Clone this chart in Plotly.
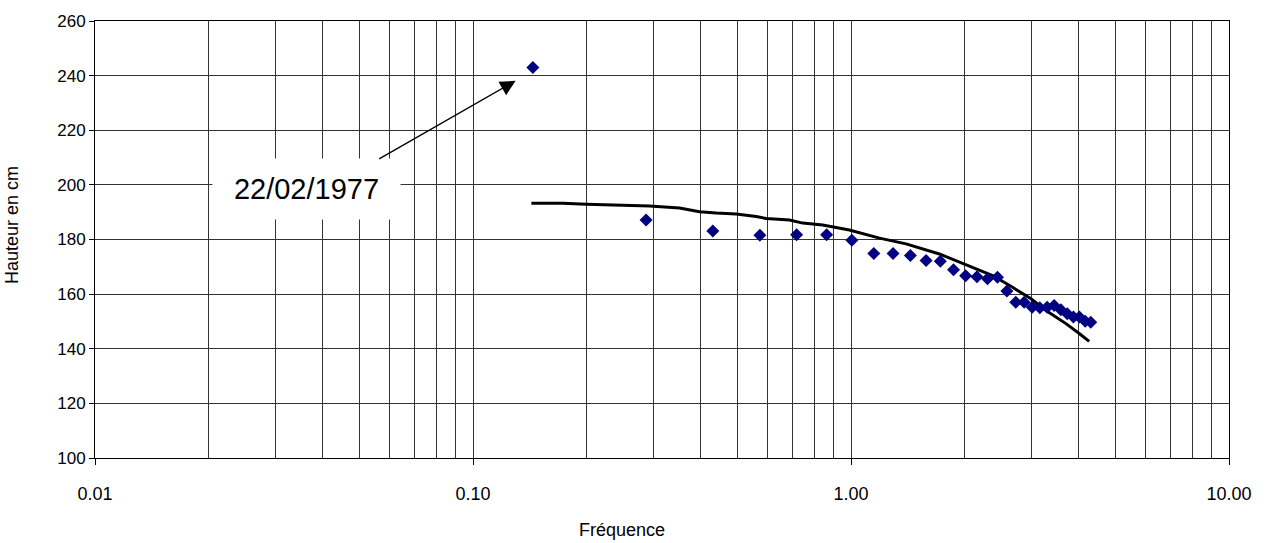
import math
import plotly.graph_objects as go

# Observed points (frequency, height in cm)
freq = [0.144, 0.287, 0.431, 0.574, 0.718, 0.862, 1.005, 1.149, 1.292, 1.436,
        1.580, 1.723, 1.867, 2.010, 2.154, 2.297, 2.441, 2.585, 2.728, 2.872,
        3.015, 3.159, 3.303, 3.446, 3.590, 3.733, 3.877, 4.020, 4.164, 4.308]
hauteur = [243.0, 187.1, 183.1, 181.6, 181.7, 181.7, 179.7, 174.9, 174.9, 174.1,
           172.3, 172.0, 168.9, 166.7, 166.4, 165.6, 166.2, 161.1, 157.0, 157.0,
           155.2, 155.0, 155.2, 155.8, 154.3, 152.8, 151.6, 151.6, 150.1, 149.7]

# Fitted curve
curve_freq = [0.1427, 0.1729, 0.1994, 0.2345, 0.2932, 0.3519, 0.3975, 0.4399, 0.4970,
              0.5614, 0.5965, 0.6875, 0.7452, 0.8417, 0.990, 1.189, 1.399, 1.713,
              2.015, 2.370, 2.676, 2.993, 3.280, 3.704, 4.016, 4.267]
curve_h = [193.3, 193.3, 192.9, 192.7, 192.3, 191.5, 190.2, 189.7, 189.3,
           188.4, 187.7, 187.1, 186.0, 185.3, 183.5, 180.5, 178.4, 174.7,
           170.7, 166.8, 162.5, 158.3, 154.0, 149.2, 145.6, 142.7]

x_ticks = [0.01, 0.1, 1, 10]
x_ticktext = ["0.01", "0.10", "1.00", "10.00"]
y_ticks = [100, 120, 140, 160, 180, 200, 220, 240, 260]

label_text = "22/02/1977"
label_pos = (0.03623, 198.5)
arrow_tip = (0.1297, 238.1)
x_title = "Fréquence"
y_title = "Hauteur en cm"

font_family = "Liberation Sans, Arial, sans-serif"
grid_col = "#333333"

fig = go.Figure()
fig.add_trace(go.Scatter(x=curve_freq, y=curve_h, mode="lines",
                         line=dict(color="black", width=3), showlegend=False,
                         hoverinfo="skip"))
fig.add_trace(go.Scatter(x=freq, y=hauteur, mode="markers",
                         marker=dict(symbol="diamond", color="#000080", size=10,
                                     line=dict(width=0)),
                         showlegend=False))

fig.add_annotation(x=math.log10(label_pos[0]), y=label_pos[1], xref="x", yref="y",
                   text=label_text, showarrow=False, bgcolor="white",
                   width=185, height=58, borderpad=1,
                   font=dict(family=font_family, size=29, color="black"))
fig.add_annotation(x=math.log10(arrow_tip[0]), y=arrow_tip[1], xref="x", yref="y",
                   text="", showarrow=True, ax=-138, ay=79, arrowhead=2,
                   arrowsize=2.2, arrowwidth=1.4, arrowcolor="black", standoff=0)

# axis titles (placed like the original, slightly off-centre)
fig.add_annotation(x=0.4647, y=-0.164, xref="paper", yref="paper", text=x_title,
                   showarrow=False, font=dict(size=18), xanchor="center", yanchor="middle")
fig.add_annotation(x=-0.0732, y=0.533, xref="paper", yref="paper", text=y_title,
                   textangle=-90, showarrow=False, font=dict(size=18),
                   xanchor="center", yanchor="middle")

fig.update_layout(
    width=1267, height=543,
    margin=dict(l=95, r=38, t=19, b=85),
    paper_bgcolor="white", plot_bgcolor="white",
    font=dict(family=font_family, size=17, color="black"),
)
fig.update_xaxes(type="log", range=[-2, 1], tickvals=x_ticks, ticktext=x_ticktext,
                 tickfont=dict(size=18),
                 showgrid=True, gridcolor=grid_col, gridwidth=1,
                 minor=dict(dtick="D1", showgrid=True, gridcolor=grid_col, gridwidth=1, ticks=""),
                 ticks="outside", ticklen=6, tickcolor="black",
                 showline=True, linecolor="black", linewidth=1, mirror=True,
                 ticklabelstandoff=13, zeroline=False)
fig.update_yaxes(range=[100, 260], tickvals=y_ticks,
                 showgrid=True, gridcolor=grid_col, gridwidth=1,
                 ticks="outside", ticklen=5, tickcolor="black",
                 showline=True, linecolor="black", linewidth=1, mirror=True,
                 zeroline=False)

fig.write_html("out.html")
